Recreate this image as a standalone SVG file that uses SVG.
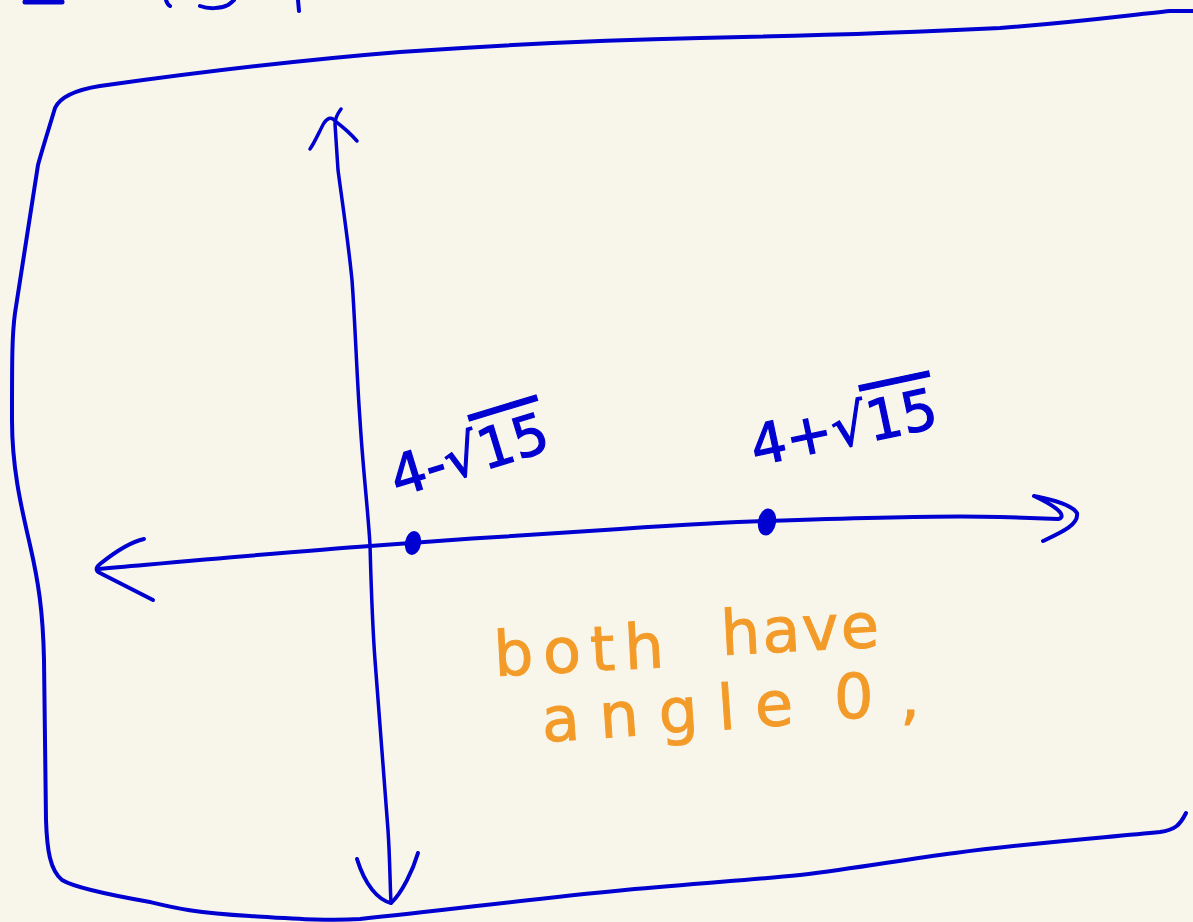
<svg xmlns="http://www.w3.org/2000/svg" width="1193" height="922" viewBox="0 0 1193 922">
<style>
.ink{fill:none;stroke:#0000D0;stroke-linecap:round;stroke-linejoin:round}
.lbl{font-family:"DejaVu Sans","Liberation Sans",sans-serif;fill:#0000D0;stroke:#0000D0;stroke-width:1.2}
.note{font-family:"DejaVu Sans","Liberation Sans",sans-serif;fill:#F39B29;stroke:#F39B29;stroke-width:1}
.dot{fill:#0000D0;stroke:#0000D0;stroke-width:4}
</style>
<rect width="1193" height="922" fill="#F8F6EB"/>
<g id="cropped-top">
<path class="ink" stroke-width="5" d="M25,2 L62,2"/>
<path class="ink" stroke-width="4" d="M166,0 C167,3 168,5 170,6"/>
<path class="ink" stroke-width="4" d="M200,6 C208,9 220,9 228,5 C231,3 233,1 234,0"/>
<path class="ink" stroke-width="4" d="M298,0 L299,11"/>
</g>
<g id="frame">
<path class="ink" stroke-width="4" d="M1193,11 L1170,11 C1130,15 1080,22 1000,28 C900,33 800,36 700,38 C600,40 500,45 400,52 C300,60 200,72 100,86 C75,90 60,97 55,108 C50,125 42,150 38,165 L15,313 C12,335 12,360 12,420 C12,470 22,510 30,545 C38,580 43,610 44,660 L46,820 C47,850 50,870 62,880 C75,888 110,895 150,902 C175,908 195,913 250,916 C300,919 330,921 360,919 C450,910 520,900 625,890 C700,883 750,880 800,875 C860,868 900,860 955,853 C1030,843 1100,838 1160,832 C1175,830 1180,825 1186,813"/>
</g>
<g id="connectors">
<path id="y-axis" class="ink" stroke-width="3.5" d="M341,109 C338,113 335,118 335,124 L338,170 C342,200 348,240 352,280 C355,320 357,380 360,420 C363,470 368,510 370,545 C371,580 372,620 375,660 C380,730 385,790 388,830 C390,860 390,885 391,903"/>
<path class="ink" stroke-width="3.5" d="M310,149 C315,142 320,130 324,123 C328,117 332,117 335,121 C343,127 350,133 357,141"/>
<path class="ink" stroke-width="4" d="M357,859 C365,885 378,900 391,903 C402,893 413,870 418,853"/>
<path id="x-axis" class="ink" stroke-width="4" d="M97,569 C200,560 300,551 370,546 C450,540 550,533 620,529 C680,525 730,522 767,521 C850,518 950,515 1000,517 L1058,519 C1066,517 1062,509 1034,496 C1055,500 1072,505 1077,513 C1079,525 1060,533 1043,541"/>
<path class="ink" stroke-width="4" d="M144,539 C130,542 115,552 100,564 C95,568 96,571 100,573 L153,600"/>
</g>
<g id="point-minus">
<ellipse class="dot" cx="413" cy="543" rx="6" ry="10" transform="rotate(10 413 543)"/>
<text class="lbl" x="397" y="497" font-size="56" transform="rotate(-17 397 497)">4-√<tspan text-decoration="overline">15</tspan></text>
</g>
<g id="point-plus">
<ellipse class="dot" cx="767" cy="522" rx="7" ry="11.5" transform="rotate(10 767 522)"/>
<text class="lbl" x="755" y="466" font-size="56" transform="rotate(-12 755 466)">4+√<tspan text-decoration="overline">15</tspan></text>
</g>
<g id="note">
<text class="note" x="495" y="676" font-size="62" textLength="170" lengthAdjust="spacing" transform="rotate(-3 495 676)">both</text>
<text class="note" x="722" y="655" font-size="62" textLength="158" lengthAdjust="spacing" transform="rotate(-3 722 655)">have</text>
<text class="note" x="543" y="742" font-size="62" textLength="252" lengthAdjust="spacing" transform="rotate(-4 543 742)">angle</text>
<text class="note" x="834" y="718" font-size="62" textLength="86" lengthAdjust="spacing">0,</text>
</g>
</svg>
